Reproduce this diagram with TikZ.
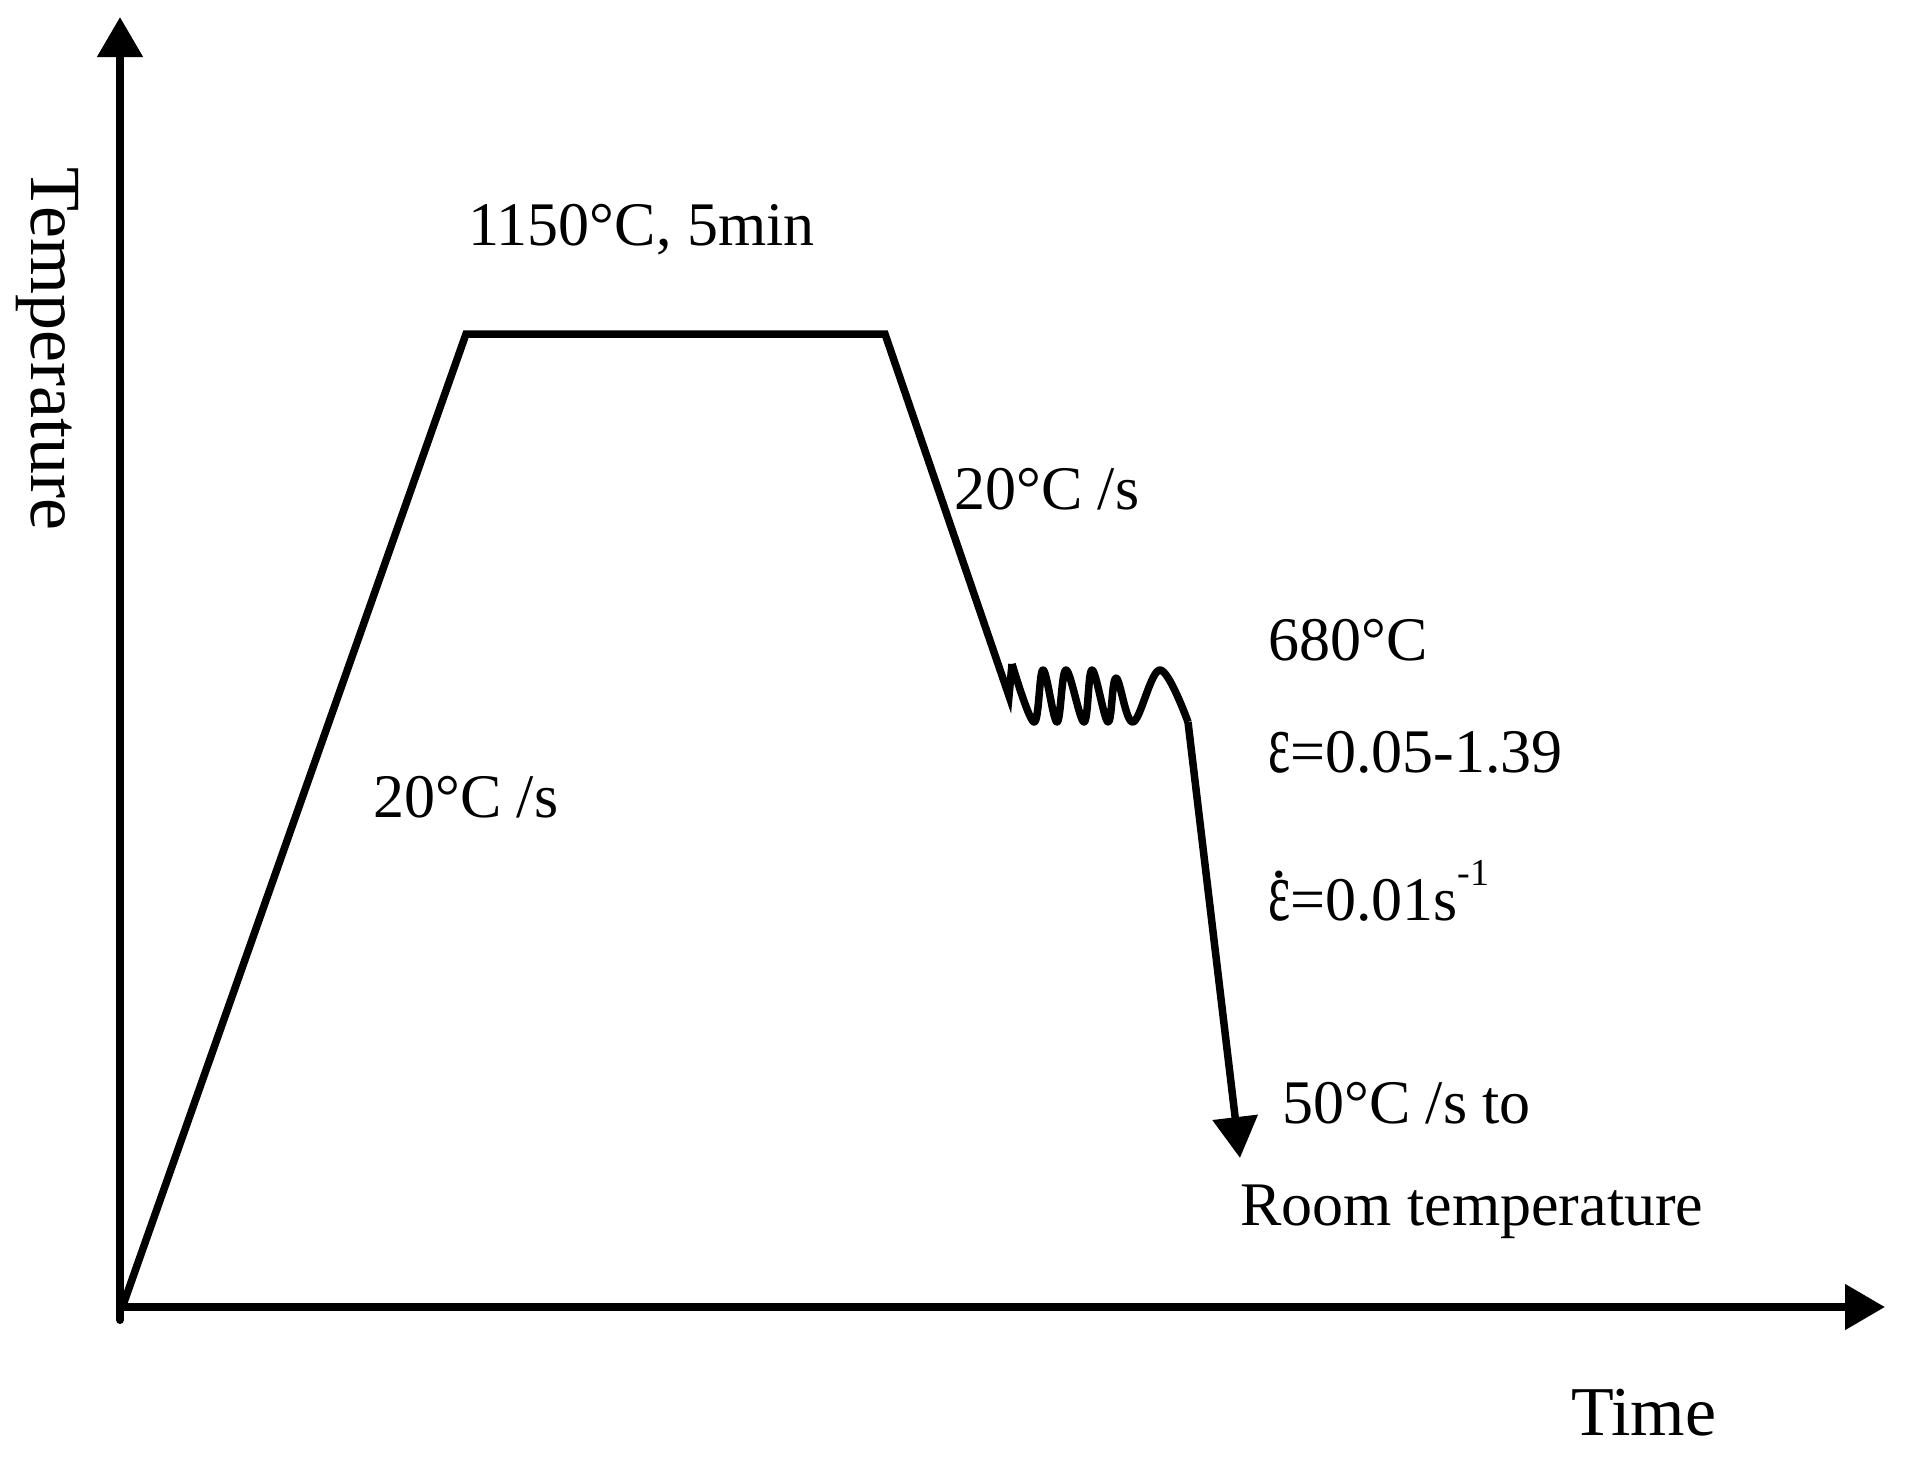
\documentclass[tikz,border=0pt]{standalone}
\usepackage{fontspec}
\usepackage{graphicx}
\setmainfont{Liberation Serif}
\usetikzlibrary{arrows.meta}
\newcommand\myeps{\scalebox{0.85}[1.38]{ε}}
\newcommand\myepsdot{\ooalign{\myeps\cr\hidewidth\raisebox{0.68em}{.}\hidewidth\cr}}
\tikzset{
  axisline/.style={line width=8pt,-{Triangle[length=40pt,width=44pt]}},
  curveline/.style={line width=7.5pt},
  lbl/.style={inner sep=0pt, anchor=base west, font=\fontsize{62}{70}\selectfont},
}
\begin{document}
\begin{tikzpicture}[x=1pt,y=-1pt]
\useasboundingbox (0,0) rectangle (1906,1476);
% axes
\coordinate (O) at (120,1307);
\coordinate (Ybot) at (120,1320);
\coordinate (Ytop) at (120,17);
\coordinate (Xend) at (1885,1307);
\draw[axisline, line cap=round] (Ybot) -- (Ytop);
\draw[axisline] (O) -- (Xend);
% heating, holding, cooling
\coordinate (S) at (122,1308);
\coordinate (P1) at (466,334);
\coordinate (P2) at (885,334);
\coordinate (C) at (1009,696);
\draw[curveline, line join=miter] (S) -- (P1) -- (P2) -- (C) -- (1012,664);
% deformation wave
\draw[curveline, line join=round] plot[smooth, tension=0.6] coordinates {
  (1012,664) (1034,722) (1043,670) (1057,722) (1066,670) (1084,722)
  (1092,670) (1108,722) (1116,678) (1133,722) (1160,670) (1188,722)};
\coordinate (D) at (1188,722);
\coordinate (T) at (1240,1158);
\draw[curveline, -{Triangle[length=41pt,width=44pt]}] (D) -- (T);
% labels
\node[lbl] (hold) at (468,245) {1150°C, 5min};
\node[lbl] (cool1) at (954,509) {20°C /s};
\node[lbl] (heat) at (373,817) {20°C /s};
\node[lbl] (temp) at (1268,660) {680°C};
\node[lbl] (strain) at (1268,772) {\myeps=0.05-1.39};
\node[lbl] (rate) at (1268,920) {\myepsdot=0.01s\raisebox{0.55em}{\fontsize{38}{40}\selectfont -1}};
\node[lbl] (cool2) at (1282,1123) {50°C /s to};
\node[lbl] (room) at (1240,1225) {Room temperature};
\node[inner sep=0pt, anchor=base west, font=\fontsize{70}{76}\selectfont] (time) at (1571,1435) {Time};
\node[inner sep=0pt, anchor=base west, rotate=-90, font=\fontsize{72}{76}\selectfont] (tlab) at (31,167) {Temperature};
\end{tikzpicture}
\end{document}
